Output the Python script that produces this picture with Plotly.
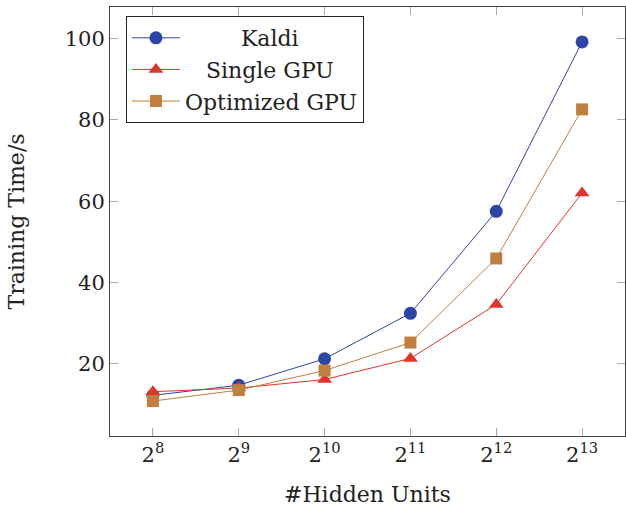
import plotly.graph_objects as go

exponents = [8, 9, 10, 11, 12, 13]
tick_labels = ["2<sup>%d</sup>" % e for e in exponents]
y_ticks = [20, 40, 60, 80, 100]
kaldi = [12.2, 14.7, 21.2, 32.4, 57.5, 99.2]
single_gpu = [13.1, 14.0, 16.1, 21.3, 34.6, 62.0]
optimized_gpu = [10.8, 13.5, 18.3, 25.2, 45.9, 82.6]
series_names = ["Kaldi", "Single GPU", "Optimized GPU"]
# leading non-breaking spaces roughly centre the legend labels like the original
legend_pad = [8, 3, 0]
legend_labels = ["\u00a0" * p + n for p, n in zip(legend_pad, series_names)]

FONT = "DejaVu Serif"
TXT = "#222"
fig = go.Figure()
fig.add_trace(go.Scatter(x=exponents, y=kaldi, name=legend_labels[0], mode="lines+markers",
                         line=dict(color="#2E45A8", width=1),
                         marker=dict(symbol="circle", size=13, color="#2E45A8")))
fig.add_trace(go.Scatter(x=exponents, y=single_gpu, name=legend_labels[1], mode="lines+markers",
                         line=dict(color="#E2342A", width=1),
                         marker=dict(symbol="triangle-up", size=13, color="#E2342A")))
fig.add_trace(go.Scatter(x=exponents, y=optimized_gpu, name=legend_labels[2], mode="lines+markers",
                         line=dict(color="#C07F3E", width=1),
                         marker=dict(symbol="square", size=12, color="#C07F3E")))

axis_common = dict(showgrid=False, zeroline=False, showline=True, linecolor="#444",
                   linewidth=1, mirror="allticks", ticks="inside", ticklen=8,
                   tickcolor="#AAA", automargin=False)
fig.update_layout(
    width=626, height=511,
    margin=dict(l=110, r=1, t=7, b=75),
    plot_bgcolor="white", paper_bgcolor="white",
    font=dict(family=FONT, size=22, color=TXT),
    xaxis=dict(range=[7.5, 13.5], tickvals=exponents, ticktext=tick_labels,
               tickfont=dict(family=FONT, size=21, color=TXT), **axis_common),
    yaxis=dict(range=[2.2, 107.8], tickvals=y_ticks,
               tickfont=dict(family=FONT, size=21, color=TXT), **axis_common),
    legend=dict(x=0.031, y=0.979, xanchor="left", yanchor="top",
                bordercolor="#222", borderwidth=1, bgcolor="white",
                font=dict(family=FONT, size=22, color=TXT), itemwidth=48),
    showlegend=True,
    annotations=[
        dict(text="#Hidden Units", xref="paper", yref="paper", x=0.5, y=0,
             xanchor="center", yanchor="middle", yshift=-58, showarrow=False,
             font=dict(family=FONT, size=22, color=TXT)),
        dict(text="Training Time/s", xref="paper", yref="paper", x=0, y=0.5,
             xanchor="center", yanchor="middle", xshift=-94, textangle=-90, showarrow=False,
             font=dict(family=FONT, size=22, color=TXT)),
    ],
)
fig.write_html("out.html", config={"displayModeBar": False},
               post_script="document.body.style.margin='0';document.body.style.overflow='hidden';")
